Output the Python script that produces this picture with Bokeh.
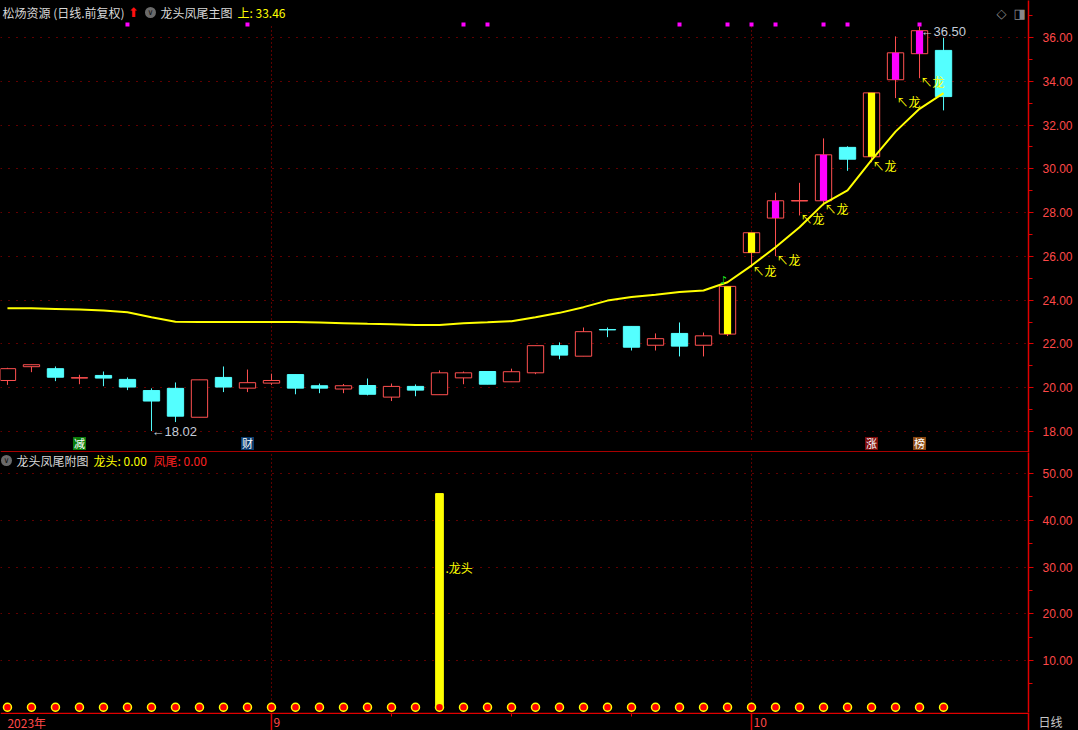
from bokeh.plotting import figure
from bokeh.layouts import column
from bokeh.models import Range1d, FixedTicker, NumeralTickFormatter, ColumnDataSource, GlobalInlineStyleSheet
from bokeh.core.properties import value
from bokeh.embed import file_html
from bokeh.resources import INLINE

# ---------------- data ----------------
opens  = [20.33, 20.96, 20.87, 20.44, 20.56, 20.38, 19.87, 19.97, 18.65, 20.47,
          19.98, 20.21, 20.60, 20.09, 19.94, 20.10, 19.57, 20.06, 19.68, 20.45,
          20.74, 20.27, 20.68, 21.92, 21.44, 22.66, 22.80, 21.94, 22.48, 21.94,
          22.45, 26.17, 27.75, 28.53, 28.54, 30.98, 30.55, 34.07, 35.26, 35.41]
highs  = [20.91, 21.05, 20.97, 20.59, 20.74, 20.47, 19.97, 20.24, 20.36, 20.97,
          20.83, 20.64, 20.60, 20.19, 20.17, 20.42, 20.19, 20.15, 20.79, 20.74,
          20.74, 20.87, 21.92, 22.07, 22.75, 22.75, 22.80, 22.48, 22.98, 22.52,
          24.63, 27.08, 28.91, 29.36, 31.39, 31.03, 33.47, 36.05, 36.50, 35.99]
lows   = [20.13, 20.71, 20.30, 20.16, 20.07, 19.89, 18.02, 18.43, 18.65, 19.80,
          19.80, 20.12, 19.70, 19.75, 19.75, 19.65, 19.39, 19.61, 19.68, 20.16,
          20.16, 20.27, 20.62, 21.30, 21.44, 22.31, 21.70, 21.70, 21.43, 21.43,
          22.36, 25.51, 26.01, 27.87, 28.33, 29.91, 30.30, 33.23, 34.14, 32.67]
closes = [20.87, 21.05, 20.48, 20.46, 20.44, 20.03, 19.39, 18.70, 20.36, 20.03,
          20.23, 20.33, 19.98, 19.98, 20.09, 19.70, 20.06, 19.89, 20.68, 20.68,
          20.16, 20.73, 21.92, 21.49, 22.56, 22.64, 21.85, 22.24, 21.90, 22.37,
          24.63, 27.08, 28.54, 28.55, 30.64, 30.44, 33.47, 35.30, 36.31, 33.30]
upper_line = [23.63, 23.63, 23.60, 23.57, 23.53, 23.45, 23.22, 23.01, 23.00, 23.00,
              23.00, 23.00, 23.00, 22.98, 22.95, 22.92, 22.90, 22.87, 22.87, 22.95,
              22.99, 23.04, 23.22, 23.42, 23.68, 23.98, 24.14, 24.25, 24.37, 24.44,
              24.82, 25.58, 26.42, 27.33, 28.40, 29.01, 30.40, 31.70, 32.74, 33.46]
inner_fill = ["", "", "", "", "", "", "", "", "", "",
              "", "", "", "", "", "", "", "", "", "",
              "", "", "", "", "", "", "", "", "", "",
              "#ffff00", "#ffff00", "#ff00ff", "", "#ff00ff", "", "#ffff00", "#ff00ff", "#ff00ff", ""]
dragon_head = [0, 0, 0, 0, 0, 0, 0, 0, 0, 0,
               0, 0, 0, 0, 0, 0, 0, 0, 45.7, 0,
               0, 0, 0, 0, 0, 0, 0, 0, 0, 0,
               0, 0, 0, 0, 0, 0, 0, 0, 0, 0]
phoenix_tail = [0, 0, 0, 0, 0, 0, 0, 0, 0, 0,
                0, 0, 0, 0, 0, 0, 0, 0, 0, 0,
                0, 0, 0, 0, 0, 0, 0, 0, 0, 0,
                0, 0, 0, 0, 0, 0, 0, 0, 0, 0]
signal_dots = [5, 10, 19, 20, 28, 30, 31, 32, 34, 35, 38]
dragon_marks = [31, 32, 33, 34, 36, 37, 38]
event_idx = [3, 10, 36, 38]
event_txt = ["减", "财", "涨", "榜"]
event_bg = ["#0b7d0b", "#0c3b6c", "#7d0c0c", "#8c4a12"]
month_idx = [0, 11, 31]
month_lbl = ["2023年", "9", "10"]
week_idx = [16, 21, 26]
price_ticks = [18, 20, 22, 24, 26, 28, 30, 32, 34, 36]
sub_ticks = [10, 20, 30, 40, 50]

N = len(opens)
xs = list(range(N))

# ---------------- style ----------------
CJK = "Noto Sans CJK SC"
NUM = "Liberation Sans"
RED = "#ff5050"
CYAN = "#54ffff"
YEL = "#ffff00"
MAG = "#ff00ff"
AXRED = "#e00000"
LBLRED = "#ff4848"
GRID = "#c00000"
HDR = "#d8d8d8"
W = 1078

# pixel helpers for decorations (reference layout)
def rx(px):
    return (px - 7) / 24.0

def rp(py):
    return 36 - (py - 37) / 21.89

def rs(py):
    return 54.49 - (py - 452) / 4.675

xr = Range1d(-0.29, 42.54)
XEND = rx(1078)


def base_fig(h, yr):
    p = figure(width=W, height=h, x_range=xr, y_range=yr, output_backend="svg",
               toolbar_location=None, x_axis_location=None, y_axis_location="right",
               min_border_left=0, min_border_right=50, min_border_top=0, min_border_bottom=0,
               background_fill_color="#000000", border_fill_color="#000000",
               outline_line_color=None)
    p.xgrid.visible = False
    return p


def style_axis(p, ticks, minor):
    t = FixedTicker(ticks=ticks, minor_ticks=minor)
    ax = p.yaxis[0]
    ax.ticker = t
    ax.formatter = NumeralTickFormatter(format="0.00")
    ax.axis_line_color = AXRED
    ax.axis_line_width = 1.5
    ax.major_tick_line_color = AXRED
    ax.major_tick_in = 0
    ax.major_tick_out = 5
    ax.minor_tick_line_color = AXRED
    ax.minor_tick_in = 0
    ax.minor_tick_out = 4
    ax.major_label_text_color = LBLRED
    ax.major_label_text_font = NUM
    ax.major_label_text_font_size = "12px"
    ax.major_label_standoff = 9
    g = p.ygrid[0]
    g.ticker = t
    g.grid_line_color = GRID
    g.grid_line_dash = "1 7"
    g.grid_line_width = 1


# ---------------- main panel ----------------
p1 = base_fig(452, Range1d(17.04, 37.69))
style_axis(p1, price_ticks, [v + 1 for v in [16] + price_ticks])

# month boundary dotted lines
p1.segment(x0=[11, 31], y0=[rp(26)] * 2, x1=[11, 31], y1=[rp(440)] * 2,
           line_color=GRID, line_dash="1 3", line_width=1)

colors = [RED if c >= o else CYAN for o, c in zip(opens, closes)]
fills = ["#000000" if c >= o else CYAN for o, c in zip(opens, closes)]
src = ColumnDataSource(dict(x=xs, o=opens, h=highs, l=lows, c=closes,
                            top=[max(o, c) for o, c in zip(opens, closes)],
                            bot=[min(o, c) for o, c in zip(opens, closes)],
                            col=colors, fill=fills))
p1.segment(x0="x", y0="h", x1="x", y1="l", line_color="col", line_width=1, source=src)
p1.vbar(x="x", top="top", bottom="bot", width=0.68, fill_color="fill", line_color="col",
        line_width=1, source=src)

ix = [i for i in xs if inner_fill[i]]
p1.vbar(x=ix, top=[closes[i] for i in ix], bottom=[opens[i] for i in ix], width=0.3,
        fill_color=[inner_fill[i] for i in ix], line_color=None)

p1.line(xs, upper_line, line_color=YEL, line_width=2)

# dragon labels
p1.text(x=dragon_marks, y=[lows[i] for i in dragon_marks], text=["↖龙"] * len(dragon_marks),
        text_font=value(CJK), text_font_size="12px", text_color=YEL,
        text_align="left", text_baseline="middle", x_offset=1, y_offset=3)

# signal squares at top
p1.scatter(x=signal_dots, y=[rp(24)] * len(signal_dots), marker="square", size=4,
           fill_color=MAG, line_color=None)

# low / high annotations
lo_i = lows.index(min(lows))
hi_i = highs.index(max(highs))
p1.text(x=[lo_i], y=[lows[lo_i]], text=["←%.2f" % lows[lo_i]], text_font=value(NUM),
        text_font_size="13px", text_color="#c4ccd8", text_align="left",
        text_baseline="middle", x_offset=0, y_offset=0)
p1.text(x=[hi_i], y=[highs[hi_i]], text=["←%.2f" % highs[hi_i]], text_font=value(NUM),
        text_font_size="13px", text_color="#c4ccd8", text_align="left",
        text_baseline="middle", x_offset=1, y_offset=5)

# green marker at first limit-up
p1.text(x=[30], y=[highs[30]], text=["♪"], text_font=value("DejaVu Sans"),
        text_font_size="11px", text_color="#22ee22", text_align="center",
        text_baseline="bottom", x_offset=-4, y_offset=1)

# event boxes
ey = [rp(443)] * len(event_idx)
p1.rect(x=event_idx, y=ey, width=13, height=13, width_units="screen", height_units="screen",
        fill_color=event_bg, line_color=None)
p1.text(x=event_idx, y=ey, text=event_txt, text_font=value(CJK), text_font_size="11px",
        text_color="#ffffff", text_align="center", text_baseline="middle")

# separator line
p1.segment(x0=[-0.29], y0=[rp(451.5)], x1=[XEND], y1=[rp(451.5)], line_color=AXRED, line_width=1.5)

# header
hy = rp(12)
p1.text(x=[rx(2)], y=[hy], text=["松炀资源 (日线.前复权)"], text_font=value(CJK),
        text_font_size="12px", text_color=HDR, text_align="left", text_baseline="middle")
p1.text(x=[rx(133)], y=[hy], text=["⬆"], text_font=value("DejaVu Sans"),
        text_font_size="13px", text_color="#ff1010", text_align="center", text_baseline="middle")
p1.scatter(x=[rx(150)], y=[hy], marker="circle", size=11, fill_color="#6a6a6a", line_color=None)
p1.text(x=[rx(150)], y=[hy], text=["∨"], text_font=value("DejaVu Sans"), text_font_size="8px",
        text_color="#111111", text_align="center", text_baseline="middle")
p1.text(x=[rx(160)], y=[hy], text=["龙头凤尾主图"], text_font=value(CJK),
        text_font_size="12px", text_color=HDR, text_align="left", text_baseline="middle")
p1.text(x=[rx(237)], y=[hy], text=["上: %.2f" % upper_line[-1]], text_font=value(CJK),
        text_font_size="12px", text_color=YEL, text_align="left", text_baseline="middle")
p1.text(x=[rx(1001), rx(1019)], y=[rp(13)] * 2, text=["◇", "◨"],
        text_font=value("DejaVu Sans"), text_font_size="13px", text_color="#8a8a8a",
        text_align="center", text_baseline="middle")

# ---------------- sub panel ----------------
p2 = base_fig(260, Range1d(-1.12, 54.49))
style_axis(p2, sub_ticks, [5, 15, 25, 35, 45])
p2.segment(x0=[11, 31], y0=[rs(454)] * 2, x1=[11, 31], y1=[rs(706)] * 2,
           line_color=GRID, line_dash="1 3", line_width=1)

bx = [i for i in xs if dragon_head[i] > 0]
p2.vbar(x=bx, top=[dragon_head[i] for i in bx], bottom=0, width=0.32,
        fill_color=YEL, line_color=YEL)
p2.text(x=bx, y=[30] * len(bx), text=[".龙头"] * len(bx), text_font=value(CJK),
        text_font_size="12px", text_color=YEL, text_align="left", text_baseline="middle",
        x_offset=6)
p2.scatter(x=xs, y=phoenix_tail, marker="circle", size=8, fill_color="#ff0000",
           line_color=YEL, line_width=1.5)

sy = rs(460)
p2.scatter(x=[rx(6)], y=[sy], marker="circle", size=11, fill_color="#6a6a6a", line_color=None)
p2.text(x=[rx(6)], y=[sy], text=["∨"], text_font=value("DejaVu Sans"), text_font_size="8px",
        text_color="#111111", text_align="center", text_baseline="middle")
p2.text(x=[rx(16)], y=[sy], text=["龙头凤尾附图"], text_font=value(CJK), text_font_size="12px",
        text_color=HDR, text_align="left", text_baseline="middle")
p2.text(x=[rx(93)], y=[sy], text=["龙头: %.2f" % dragon_head[-1]], text_font=value(CJK),
        text_font_size="12px", text_color=YEL, text_align="left", text_baseline="middle")
p2.text(x=[rx(153)], y=[sy], text=["凤尾: %.2f" % phoenix_tail[-1]], text_font=value(CJK),
        text_font_size="12px", text_color="#ff2020", text_align="left", text_baseline="middle")

# ---------------- date strip ----------------
p3 = figure(width=W, height=18, x_range=xr, y_range=Range1d(0, 18),
            output_backend="svg", toolbar_location=None, x_axis_location=None,
            y_axis_location="right", min_border_left=0, min_border_right=50, min_border_top=0,
            min_border_bottom=0, background_fill_color="#000000",
            border_fill_color="#000000", outline_line_color=None)
p3.grid.visible = False
ax3 = p3.yaxis[0]
ax3.ticker = FixedTicker(ticks=[])
ax3.axis_line_color = AXRED
ax3.axis_line_width = 1.5
ax3.major_tick_line_color = None
ax3.minor_tick_line_color = None
ax3.major_label_text_font_size = "0px"
ax3.axis_label = "日线"
ax3.axis_label_orientation = "horizontal"
ax3.axis_label_text_font = CJK
ax3.axis_label_text_font_size = "12px"
ax3.axis_label_text_font_style = "normal"
ax3.axis_label_text_color = "#c8c8c8"
ax3.axis_label_standoff = 10

p3.segment(x0=[-0.29], y0=[17.3], x1=[XEND], y1=[17.3], line_color=AXRED, line_width=1.5)
mt = [m for m in month_idx if m > 0]
p3.segment(x0=mt, y0=[0] * len(mt), x1=mt, y1=[18] * len(mt), line_color=AXRED, line_width=1.5)
p3.segment(x0=week_idx, y0=[14] * len(week_idx), x1=week_idx, y1=[18] * len(week_idx),
           line_color=AXRED, line_width=1)
lx = [rx(5) if m == 0 else m for m in month_idx]
p3.text(x=lx, y=[8.5] * len(lx), text=month_lbl, text_font=value(CJK), text_font_size="12px",
        text_color=LBLRED, text_align="left", text_baseline="middle", x_offset=2)

layout = column(p1, p2, p3, spacing=0,
                stylesheets=[GlobalInlineStyleSheet(css="body{background:#000000;}")])

open("out.html", "w").write(file_html(layout, INLINE))
